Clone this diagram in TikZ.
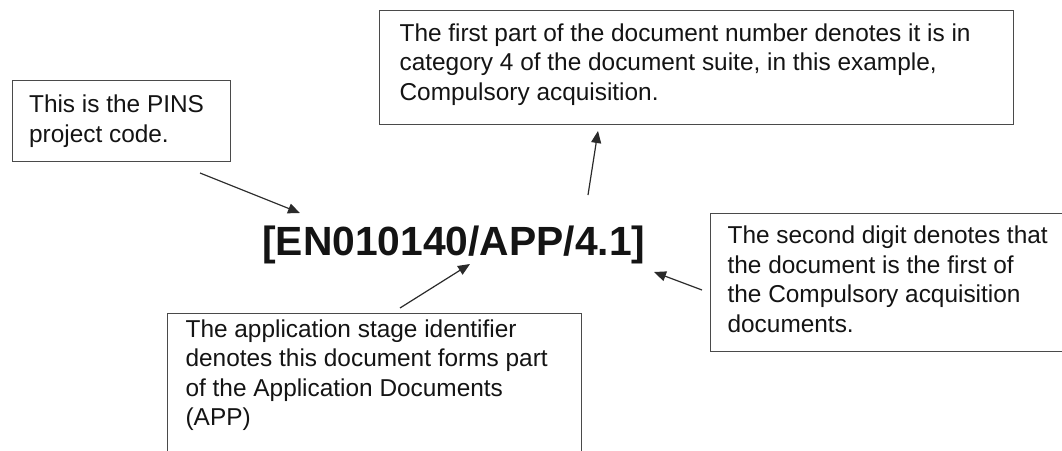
\documentclass[tikz,border=0pt]{standalone}
\usepackage{fontspec}
\setmainfont{Liberation Sans}
\usetikzlibrary{arrows.meta}
\definecolor{boxgray}{HTML}{4A4A4A}
\definecolor{inkc}{HTML}{141414}
\definecolor{arrowc}{HTML}{2A2A2A}
\newcommand\bodyfont{\fontsize{24.4}{29.5}\selectfont}
% width, height, left pad, first baseline, text
\newcommand\cbox[5]{\hspace*{#3}\begin{minipage}[t][#2][t]{\dimexpr#1-#3\relax}\raggedright\rule{0pt}{#4}#5\end{minipage}}
\begin{document}
\begin{tikzpicture}[x=1pt,y=-1pt,
  callout/.style={draw=boxgray, line width=1.2pt, anchor=north west, inner sep=0pt, font=\bodyfont, text=inkc},
  codetitle/.style={anchor=base west, inner sep=0pt, font=\fontsize{40.8}{48}\selectfont\bfseries, text=inkc},
  conn/.style={draw=arrowc, line width=1.2pt, -{Triangle[length=12pt,width=10pt]}}]
\useasboundingbox (0,0) rectangle (1062,450);
\clip (0,0) rectangle (1062,450);
\fill[white] (0,0) rectangle (1062,450);

\node[callout] (pins) at (11.5,80) {\cbox{218pt}{81pt}{17pt}{32pt}{This is the PINS\\project code.}};
\node[callout] (first) at (379,10) {\cbox{634pt}{114pt}{20pt}{30.5pt}{The first part of the document number denotes it is in\\category 4 of the document suite, in this example,\\Compulsory acquisition.}};
\node[callout] (second) at (710,213) {\cbox{380pt}{138pt}{17pt}{30pt}{The second digit denotes that\\the document is the first of\\the Compulsory acquisition\\documents.}};
\node[callout] (stage) at (167,313) {\cbox{414pt}{160pt}{18pt}{23.5pt}{The application stage identifier\\denotes this document forms part\\of the Application Documents\\(APP)}};

\node[codetitle] (code) at (262,255) {[EN010140/APP/4.1]};

\coordinate (pinsTail) at (200,173);
\coordinate (pinsHead) at (300,213);
\coordinate (firstTail) at (588,195);
\coordinate (firstHead) at (598,131);
\coordinate (stageTail) at (400,308);
\coordinate (stageHead) at (470,264);
\coordinate (secondTail) at (702,290);
\coordinate (secondHead) at (654,272);

\draw[conn] (pinsTail) -- (pinsHead);
\draw[conn] (firstTail) -- (firstHead);
\draw[conn] (stageTail) -- (stageHead);
\draw[conn] (secondTail) -- (secondHead);
\end{tikzpicture}
\end{document}
